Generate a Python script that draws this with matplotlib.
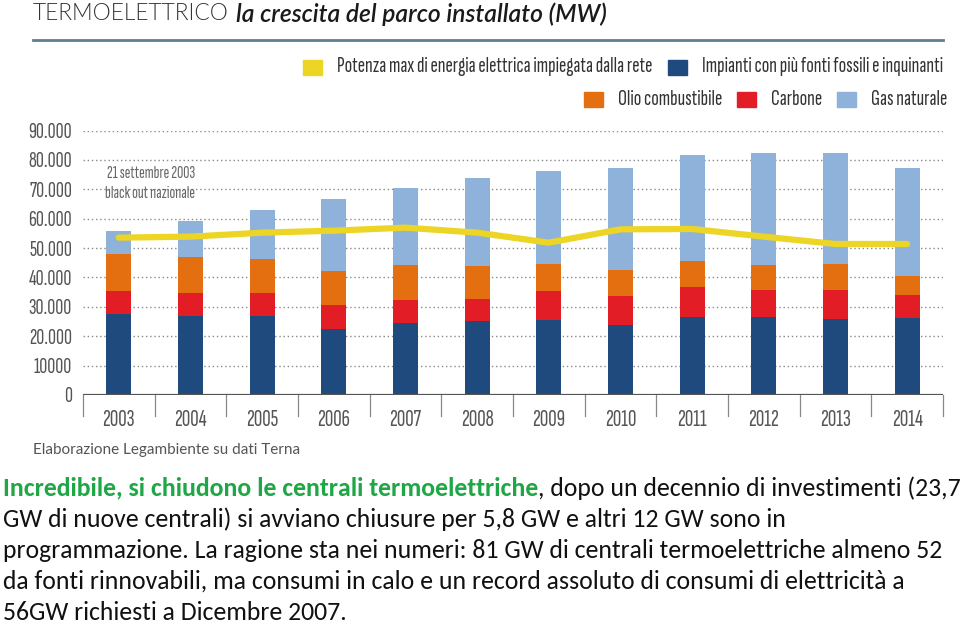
import matplotlib
matplotlib.use("Agg")
import matplotlib.pyplot as plt
from matplotlib import font_manager
from matplotlib.font_manager import FontProperties
from matplotlib.textpath import TextPath
from matplotlib.patches import Rectangle
from matplotlib.lines import Line2D

# data (MW)
years = ["2003", "2004", "2005", "2006", "2007", "2008",
         "2009", "2010", "2011", "2012", "2013", "2014"]
# top of each stacked segment
multi_top = [27450, 26900, 27000, 22460, 24400, 25180, 25520, 23710, 26650, 26430, 25860, 26200]
coal_top = [35400, 34600, 34800, 30600, 32200, 32770, 35390, 33690, 36650, 35620, 35840, 33920]
oil_top = [48000, 47070, 46280, 42200, 44240, 43800, 44580, 42540, 45600, 44240, 44470, 40600]
gas_top = [55800, 59300, 62950, 66700, 70550, 73740, 76230, 77250, 81560, 82350, 82350, 77140]
peak_demand = [53540, 53880, 55240, 55920, 56940, 55240, 51830, 56370, 56490, 53880, 51390, 51390]

yticks = [0, 10000, 20000, 30000, 40000, 50000, 60000, 70000, 80000, 90000]
ytick_labels = ["0", "10000", "20.000", "30.000", "40.000", "50.000",
                "60.000", "70.000", "80.000", "90.000"]

C_MULTI = "#1e4a7e"
C_COAL = "#e31d25"
C_OIL = "#e46f10"
C_GAS = "#8fb2db"
C_LINE = "#ecd524"
GRAY = "#555555"

W, H = 960, 622
DPI = 100


def resolve(family, weight, style="normal"):
    # True only if this family really has a face close to the wanted weight
    try:
        path = font_manager.findfont(FontProperties(family=family, weight=weight, style=style),
                                     fallback_to_default=False)
    except Exception:
        return False
    for f in font_manager.fontManager.ttflist:
        if f.fname == path:
            fw = f.weight if isinstance(f.weight, int) else font_manager.weight_dict.get(f.weight, 400)
            return f.name.lower() == family.lower() and abs(fw - weight) <= 100
    return False


def ink(s, family, weight=400, style="normal"):
    p = TextPath((0, 0), s, size=10,
                 prop=FontProperties(family=family, weight=weight, style=style))
    e = p.get_extents()
    return e.width, e.height


def choose(sample, w_px, h_px, candidates, style="normal"):
    ok = [(f, wt) for f, wt in candidates if resolve(f, wt, style)] or [("DejaVu Sans", 400)]

    def err(c):
        w, h = ink(sample, c[0], c[1], style)
        return abs(w / h - w_px / h_px)
    return min(ok, key=err)


def fit(s, w_px, family, weight=400, style="normal"):
    w, _ = ink(s, family, weight, style)
    return w_px * 10 * 72 / (w * DPI)


CONDENSED = [("Myriad Pro Condensed", 400), ("PT Sans Narrow", 400),
             ("Fira Sans Extra Condensed", 400), ("Fira Sans Extra Condensed", 300),
             ("Fira Sans Condensed", 400), ("Fira Sans Condensed", 300),
             ("Barlow Condensed", 400), ("Barlow Condensed", 300),
             ("Asap Condensed", 400), ("Asap Condensed", 300),
             ("Roboto Condensed", 400), ("Open Sans Condensed", 300),
             ("Encode Sans Condensed", 400), ("Encode Sans Extra Condensed", 400),
             ("Sofia Sans Condensed", 400), ("Sofia Sans Extra Condensed", 400),
             ("Saira Condensed", 400), ("Saira Extra Condensed", 400),
             ("Archivo Narrow", 400), ("Liberation Sans Narrow", 400)]
HUMANIST = [("Myriad Pro", 300), ("Source Sans 3", 300), ("Source Sans Pro", 300),
            ("Fira Sans", 300), ("Fira Sans Condensed", 300), ("Barlow Semi Condensed", 300),
            ("Asap", 300), ("Open Sans", 300), ("Lato", 300)]
REGULAR = [("Myriad Pro", 400), ("Source Sans 3", 400), ("Source Sans Pro", 400),
           ("PT Sans", 400), ("Fira Sans", 400), ("Open Sans", 400), ("Lato", 400)]

NARROW, NW = choose("2003", 31, 15, CONDENSED)
TITLE, TW = choose("TERMOELETTRICO", 195, 13.5, HUMANIST)
SRC, SW = choose("Elaborazione Legambiente su dati Terna", 264, 10, REGULAR)
BODY = "Carlito" if resolve("Carlito", 400) else "Lato"

fs_year = fit("2003", 31, NARROW, NW)
fs_ytick = fit("90.000", 42, NARROW, NW)
fs_note = fit("21 settembre 2003", 88, NARROW, NW)
fs_leg = fit("Potenza max di energia elettrica impiegata dalla rete", 314, NARROW, NW)
fs_title = fit("TERMOELETTRICO", 195, TITLE, TW)
fs_src = fit("Elaborazione Legambiente su dati Terna", 264, SRC, SW)

fig = plt.figure(figsize=(W / DPI, H / DPI), dpi=DPI)
renderer = fig.canvas.get_renderer()


def px(x, y):
    return x / W, 1 - y / H


def text_w(t):
    return t.get_window_extent(renderer=renderer).width


def put(x, y, s, **kw):
    fx, fy = px(x, y)
    return fig.text(fx, fy, s, **kw)


# axes: x 83..943 px, y 0 at 395 px, 90000 at 130.5 px
ax = fig.add_axes([83 / W, (H - 395) / H, 860 / W, (395 - 130.5) / H])
ax.set_xlim(-0.5, len(years) - 0.5)
ax.set_ylim(0, 90000)
for s in ax.spines.values():
    s.set_visible(False)

for v in yticks[1:]:
    ax.axhline(v, color="#8a8a8a", lw=1, ls=(0, (1, 2)), zorder=0)
ax.axhline(0, color=GRAY, lw=1.6, zorder=3)

x = list(range(len(years)))
bw = 0.35
ax.bar(x, multi_top, bw, color=C_MULTI, zorder=2)
ax.bar(x, [c - m for c, m in zip(coal_top, multi_top)], bw, bottom=multi_top, color=C_COAL, zorder=2)
ax.bar(x, [o - c for o, c in zip(oil_top, coal_top)], bw, bottom=coal_top, color=C_OIL, zorder=2)
ax.bar(x, [g - o for g, o in zip(gas_top, oil_top)], bw, bottom=oil_top, color=C_GAS, zorder=2)
ax.plot(x, peak_demand, color=C_LINE, lw=4.5, solid_capstyle="round", solid_joinstyle="round", zorder=4)

ax.set_yticks(yticks)
ax.set_yticklabels(ytick_labels, family=NARROW, weight=NW, fontsize=fs_ytick, color=GRAY)
ax.set_xticks(x)
ax.set_xticklabels(years, family=NARROW, weight=NW, fontsize=fs_year, color=GRAY)
ax.tick_params(axis="both", length=0)
ax.tick_params(axis="y", pad=8)
ax.tick_params(axis="x", pad=10)

# category separators below the axis
for b in range(len(years) + 1):
    ax.add_line(Line2D([b - 0.5, b - 0.5], [0, -0.08], color="#888888", lw=0.9,
                       transform=ax.get_xaxis_transform(), clip_on=False))

# annotation near 2003
put(107, 173, "21 settembre 2003", family=NARROW, weight=NW, fontsize=fs_note, color="#666666", va="center")
put(105, 193, "black out nazionale", family=NARROW, weight=NW, fontsize=fs_note, color="#666666", va="center")

# title
put(33, 14, "TERMOELETTRICO", family=TITLE, weight=TW,
    fontsize=fs_title, color="#333333", va="center")
it = put(236, 14, "la crescita del parco installato (MW)", family=TITLE, fontsize=fs_title,
         style="italic", weight="semibold", color="#1a1a1a", va="center")
it.set_fontsize(fs_title * 369 / text_w(it))
fig.add_artist(Line2D([33 / W, 943 / W], [1 - 39.5 / H] * 2, color="#5d7f94", lw=2))


# legend
def legend_item(x0, y0, color, label):
    fx, fy = px(x0, y0 + 7.5)
    fig.add_artist(Rectangle((fx, fy), 19 / W, 15 / H, color=color, transform=fig.transFigure))
    put(x0 + 34, y0, label, family=NARROW, weight=NW, fontsize=fs_leg, color="#333333", va="center")


legend_item(303, 67, C_LINE, "Potenza max di energia elettrica impiegata dalla rete")
legend_item(668, 67, C_MULTI, "Impianti con più fonti fossili e inquinanti")
legend_item(584, 99.5, C_OIL, "Olio combustibile")
legend_item(737, 99.5, C_COAL, "Carbone")
legend_item(837, 99.5, C_GAS, "Gas naturale")

put(33, 450, "Elaborazione Legambiente su dati Terna", family=SRC, weight=SW,
    fontsize=fs_src, color=GRAY, va="center")

# caption below the chart
lines = [
    "GW di nuove centrali) si avviano chiusure per 5,8 GW e altri 12 GW sono in",
    "programmazione. La ragione sta nei numeri: 81 GW di centrali termoelettriche almeno 52",
    "da fonti rinnovabili, ma consumi in calo e un record assoluto di consumi di elettricità a",
    "56GW richiesti a Dicembre 2007.",
]
probe = put(3, 581, lines[2], family=BODY, fontsize=10)
fs = 10 * 905 / text_w(probe)
probe.remove()

g = put(3, 488, "Incredibile, si chiudono le centrali termoelettriche", family=BODY,
        fontsize=fs, weight="bold", color="#1fa645", va="center")
put(3 + text_w(g), 488, ", dopo un decennio di investimenti (23,7", family=BODY,
    fontsize=fs, color="#111111", va="center")
for i, s in enumerate(lines):
    put(3, 519 + 31 * i, s, family=BODY, fontsize=fs, color="#111111", va="center")

fig.savefig("out.png", dpi=DPI)
